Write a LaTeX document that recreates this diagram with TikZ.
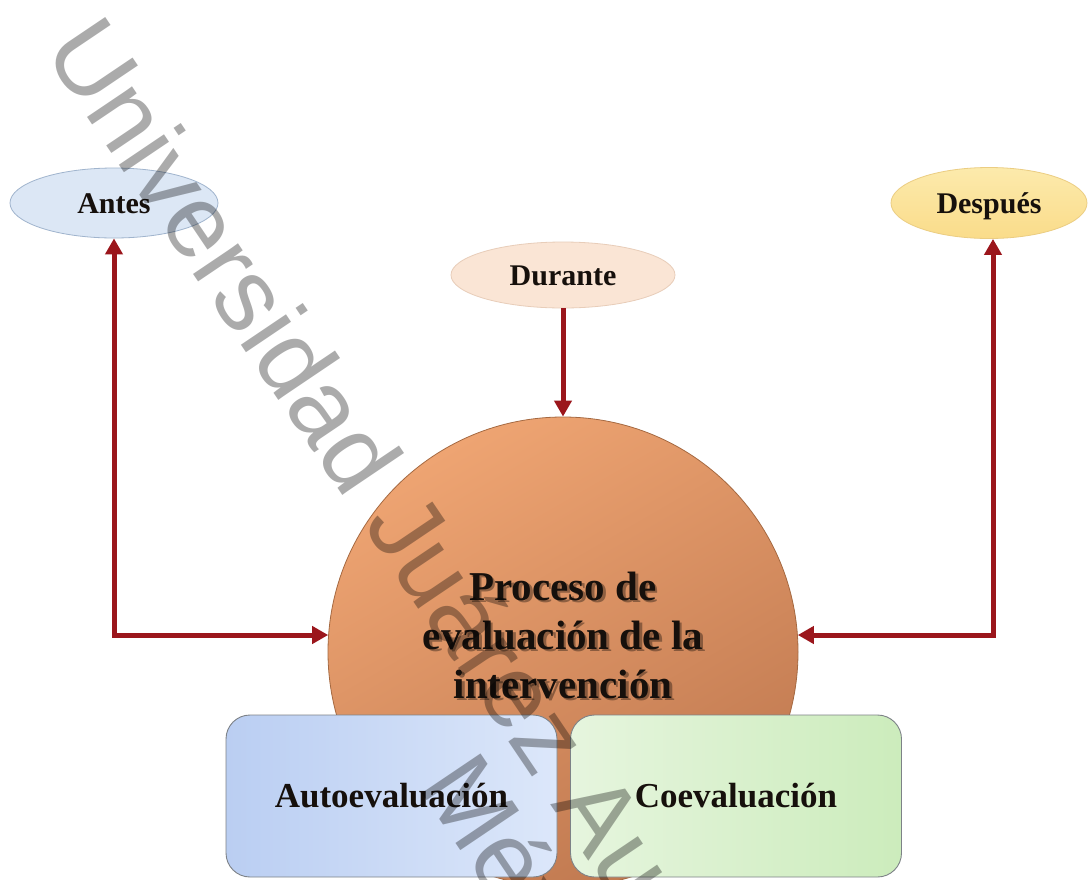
\documentclass[tikz,border=0pt]{standalone}
\usepackage{fontspec}
\setmainfont{Liberation Serif}
\newfontfamily\wmfont{Liberation Sans}
\usetikzlibrary{shapes.geometric,arrows.meta,calc}
\definecolor{arrowred}{RGB}{155,22,28}
\definecolor{txt}{RGB}{22,16,12}
\definecolor{antesfill}{RGB}{220,231,245}
\definecolor{antesdraw}{RGB}{160,180,205}
\definecolor{durfill}{RGB}{250,229,213}
\definecolor{durdraw}{RGB}{232,205,185}
\definecolor{despfill}{RGB}{250,220,138}
\definecolor{desptop}{RGB}{252,234,172}
\definecolor{despdraw}{RGB}{235,205,130}
\definecolor{orA}{RGB}{238,164,114}
\definecolor{orB}{RGB}{234,159,109}
\definecolor{orC}{RGB}{192,121,80}
\definecolor{ordraw}{RGB}{165,105,65}
\definecolor{autoL}{RGB}{186,206,242}
\definecolor{autoR}{RGB}{220,231,250}
\definecolor{coL}{RGB}{230,245,222}
\definecolor{coR}{RGB}{204,236,188}
\definecolor{boxdraw}{RGB}{125,130,135}
\tikzset{
  redtip/.tip={Triangle[length=16pt,width=17pt]},
  arr/.style={draw=arrowred,line width=5pt,line join=miter},
  ell/.style={ellipse,draw,line width=0.8pt,inner sep=0pt,
    font=\fontsize{30}{36}\selectfont\bfseries,text height=20pt,text depth=0pt,text=txt},
  boxnode/.style={rectangle,rounded corners=24pt,draw=boxdraw,line width=0.9pt,
    minimum width=331pt,minimum height=162pt,inner sep=0pt,
    font=\fontsize{35}{40}\selectfont\bfseries,text height=23pt,text depth=0pt,text=txt},
  wm/.style={inner sep=0pt,font=\wmfont\fontsize{103}{103}\selectfont,
    text=black,text opacity=0.33,anchor=base west,rotate=-56}
}
\begin{document}
\begin{tikzpicture}[x=1pt,y=-1pt]
\useasboundingbox (0,0) rectangle (1088,879);
\fill[white] (0,0) rectangle (1088,879);

% central circle
\node[circle,minimum size=470pt,inner sep=0pt,draw=ordraw,line width=0.8pt,
  top color=orA,middle color=orB,bottom color=orC,shading angle=30] (proc) at (563,652) {};

% ellipses
\node[ell,draw=antesdraw,fill=antesfill,minimum width=208pt,minimum height=70pt] (antes) at (114,203) {Antes};
\node[ell,draw=durdraw,fill=durfill,minimum width=224pt,minimum height=66pt] (dur) at (563,275) {Durante};
\node[ell,draw=despdraw,top color=desptop,bottom color=despfill,minimum width=196pt,minimum height=71pt] (desp) at (989,203) {Después};

% connectors
\coordinate (ac) at (114,635);
\coordinate (dc) at (993,635);
\draw[arr,redtip-redtip] (antes.south) -- (ac) -- ($(ac -| proc.west)+(0.6,0)$);
\draw[arr,redtip-redtip] (dc |- desp.south) -- (dc) -- ($(dc -| proc.east)-(0.6,0)$);
\draw[arr,-redtip] (dur.south) -- (proc.north);

% circle text (shadow + text)
\node[align=center,font=\fontsize{41}{49}\selectfont\bfseries,text=black,text opacity=0.35,inner sep=0pt] (pshadow) at (565.5,637.5)
  {Proceso de\\evaluación de la\\intervención};
\node[align=center,font=\fontsize{41}{49}\selectfont\bfseries,text=txt,inner sep=0pt] (ptext) at (563,635)
  {Proceso de\\evaluación de la\\intervención};

% boxes
\node[boxnode,left color=autoL,right color=autoR] (auto) at (391.5,796) {Autoevaluación};
\node[boxnode,left color=coL,right color=coR] (coev) at (736,796) {Coevaluación};

% watermark
\begin{scope}
\clip (0,0) rectangle (1088,879);
\node[wm] (wm1) at (42,50) {Universidad Juárez Autónoma de Tabasco};
\node[wm] (wm2) at (417,786) {México};
\end{scope}
\end{tikzpicture}
\end{document}
